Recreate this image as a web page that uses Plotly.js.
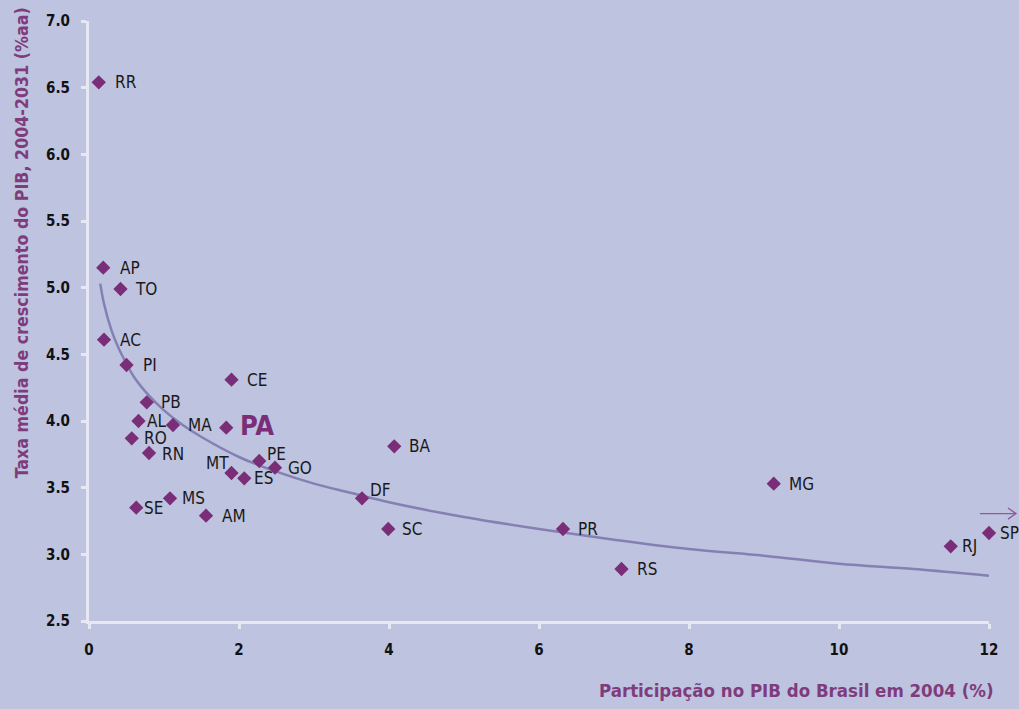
<!DOCTYPE html>
<html>
<head>
<meta charset="utf-8">
<script src="https://cdn.plot.ly/plotly-3.0.1.min.js"></script>
<style>html,body{margin:0;padding:0;background:#BEC3DF;}#chart{width:1019px;height:709px;}</style>
</head>
<body>
<div id="chart"></div>
<script>
// Data
const states = ['RR','AP','TO','AC','PI','PB','AL','MA','RO','RN','PA','CE','PE','GO','MT','ES','DF','BA','SC','SE','MS','AM','PR','RS','MG','RJ','SP'];
const gdpShare2004 = [0.13,0.19,0.42,0.20,0.50,0.77,0.66,1.12,0.57,0.80,1.83,1.90,2.27,2.48,1.90,2.07,3.64,4.07,3.99,0.63,1.08,1.56,6.32,7.10,9.13,11.49,12.0];
const growthRate = [6.54,5.15,4.99,4.61,4.42,4.14,4.00,3.97,3.87,3.76,3.95,4.31,3.70,3.65,3.61,3.57,3.42,3.81,3.19,3.35,3.42,3.29,3.19,2.89,3.53,3.06,3.16];
// trend line
const trendX = [0.15,0.2,0.3,0.4,0.5,0.6,0.8,1.0,1.25,1.5,2.0,2.5,3.0,3.5,4.0,5.0,6.0,7.0,8.0,9.0,10.0,11.0,12.0];
const trendY = [5.03,4.88,4.68,4.54,4.43,4.33,4.19,4.08,3.97,3.88,3.73,3.62,3.53,3.46,3.39,3.28,3.19,3.11,3.04,2.99,2.93,2.89,2.84];
const xTicks = [0,2,4,6,8,10,12];
const yTicks = [2.5,3.0,3.5,4.0,4.5,5.0,5.5,6.0,6.5,7.0];

// label placement (pixels): [dx, dy, anchor]
const labelOffsets = {
  RR:[14,0,'left'], AP:[15,0,'left'], TO:[12,0,'left'], AC:[14,0,'left'], PI:[14,0,'left'],
  PB:[12,0,'left'], AL:[6,0,'left'], MA:[13,0,'left'], RO:[10,0,'left'], RN:[11,-1,'left'],
  PA:[12,2,'left'], CE:[13,0,'left'], PE:[6,7,'left'], GO:[11,0,'left'], MT:[-1,10,'right'],
  ES:[8,0,'left'], DF:[6,8,'left'], BA:[13,0,'left'], SC:[12,0,'left'], SE:[6,0,'left'],
  MS:[10,0,'left'], AM:[14,0,'left'], PR:[13,0,'left'], RS:[13,0,'left'], MG:[13,0,'left'],
  RJ:[9,0,'left'], SP:[9,0,'left']
};

const FONT = '"Liberation Sans Narrow", "DejaVu Sans Condensed", "Open Sans", sans-serif';
const PURPLE = '#7A2E78';
const TITLE_PURPLE = '#7E3C7C';
const ARROW = '#93579A';

const traces = [
  {
    x: trendX, y: trendY, type: 'scatter', mode: 'lines',
    line: {color: '#8480B4', width: 2.5, shape: 'spline'},
    hoverinfo: 'skip', showlegend: false
  },
  {
    x: gdpShare2004, y: growthRate, type: 'scatter', mode: 'markers',
    marker: {symbol: 'diamond', size: 11, color: PURPLE},
    text: states, cliponaxis: false, showlegend: false
  }
];

const annotations = states.map((s, i) => {
  const o = labelOffsets[s];
  const isPA = s === 'PA';
  return {
    x: gdpShare2004[i], y: growthRate[i], xref: 'x', yref: 'y',
    text: isPA ? '<b>PA</b>' : s, showarrow: false,
    xanchor: o[2], yanchor: 'middle', xshift: o[0], yshift: o[1],
    font: {family: FONT, size: isPA ? 27 : 17, color: isPA ? PURPLE : '#1A1A1A'}
  };
});

annotations.push({
  xref: 'paper', yref: 'paper', x: -0.0744, y: 0.6295,
  text: '<b>Taxa média de crescimento do PIB, 2004-2031 (%aa)</b>',
  textangle: -90, showarrow: false, xanchor: 'center', yanchor: 'middle',
  font: {family: FONT, size: 17.7, color: TITLE_PURPLE}
});
annotations.push({
  xref: 'paper', yref: 'paper', x: 1.008, y: -0.115,
  text: '<b>Participação no PIB do Brasil em 2004 (%)</b>',
  showarrow: false, xanchor: 'right', yanchor: 'middle',
  font: {family: FONT, size: 18.5, color: TITLE_PURPLE}
});

// open arrow beside SP (decoration)
const shapes = [
  {type: 'line', xref: 'paper', yref: 'paper', x0: 0.99, x1: 1.03, y0: 0.179, y1: 0.179,
   line: {color: ARROW, width: 1.3}},
  {type: 'path', xref: 'paper', yref: 'paper',
   path: 'M 1.0211 0.1882 L 1.03 0.179 L 1.0211 0.1698',
   line: {color: ARROW, width: 1.3}}
];

const layout = {
  width: 1019, height: 709,
  paper_bgcolor: '#BEC3DF', plot_bgcolor: '#BEC3DF',
  margin: {l: 89, r: 30, t: 21, b: 88},
  showlegend: false,
  xaxis: {
    range: [0, 12], tickvals: xTicks, ticktext: xTicks.map(String),
    showgrid: false, zeroline: false, showline: true, linecolor: '#E8E8F2', linewidth: 3,
    ticks: 'outside', ticklen: 5, tickwidth: 3, tickcolor: '#E8E8F2',
    tickfont: {family: FONT, size: 15, color: '#111'}, ticklabelstandoff: 8
  },
  yaxis: {
    range: [2.5, 7.0], tickvals: yTicks, ticktext: yTicks.map(v => v.toFixed(1)),
    showgrid: false, zeroline: false, showline: true, linecolor: '#E8E8F2', linewidth: 3,
    ticks: 'outside', ticklen: 5, tickwidth: 3, tickcolor: '#E8E8F2',
    tickfont: {family: FONT, size: 15, color: '#111'}, ticklabelstandoff: 8
  },
  annotations: annotations,
  shapes: shapes,
  font: {family: FONT}
};

Plotly.newPlot('chart', traces, layout, {displayModeBar: false, staticPlot: true}).then(() => {
  document.querySelectorAll('.xtick text, .ytick text').forEach(t => t.style.fontWeight = 'bold');
});
</script>
</body>
</html>
